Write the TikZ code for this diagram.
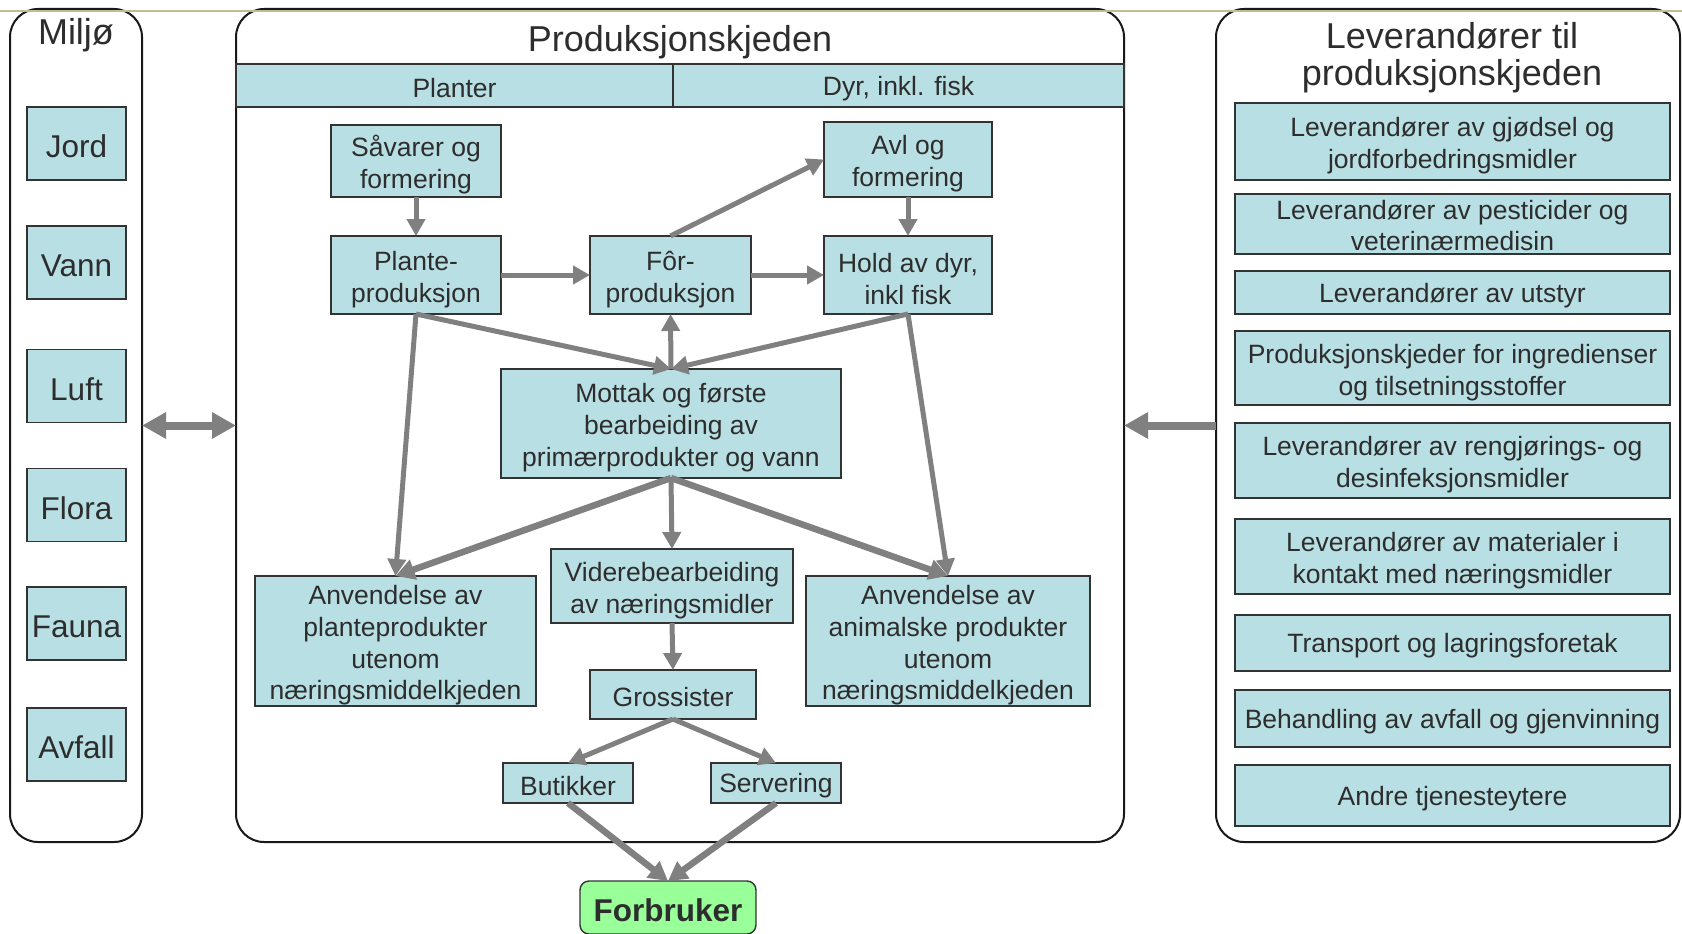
\documentclass[tikz,border=0pt]{standalone}
\usepackage{fontspec}
\setmainfont{Liberation Sans}
\usetikzlibrary{arrows.meta}
\definecolor{boxfill}{RGB}{184,223,227}
\definecolor{txtcol}{RGB}{45,45,45}
\definecolor{arrcol}{RGB}{128,128,128}
\definecolor{consfill}{RGB}{153,255,153}
\definecolor{toplinecol}{RGB}{192,188,150}
\newcommand{\tst}{\rule{0pt}{\dimexpr0.73em+8.5pt\relax}}
\newcommand{\tsth}{\rule{0pt}{\dimexpr0.73em+3pt\relax}}
\begin{document}
\begin{tikzpicture}[x=1pt,y=-1pt,
  container/.style={draw=black!90, line width=2pt, rounded corners=28pt, inner sep=0pt, outer sep=0pt},
  box/.style={draw=black!80, line width=1.4pt, fill=boxfill, text=txtcol, align=center, inner sep=0pt, outer sep=0pt, font=\fontsize{26.5}{31.8}\selectfont, execute at begin node={\rule{0pt}{\dimexpr0.73em+5.5pt\relax}}},
  envbox/.style={box, font=\fontsize{31.5}{34}\selectfont, minimum width=99pt, minimum height=73pt},
  supbox/.style={box, minimum width=435pt},
  title/.style={text=txtcol, align=center, inner sep=0pt, font=\fontsize{36}{36.5}\selectfont},
  flow/.style={draw=arrcol, line width=5pt, -{Triangle[length=17pt,width=18pt]}},
  flowthick/.style={draw=arrcol, line width=6.5pt, -{Triangle[length=19pt,width=20pt]}},
  bigflow/.style={draw=arrcol, line width=8pt, -{Triangle[length=24pt,width=25pt]}},
  bigboth/.style={draw=arrcol, line width=8pt, {Triangle[length=24pt,width=25pt]}-{Triangle[length=24pt,width=25pt]}}
]
\useasboundingbox (0,0) rectangle (1682,934);
% containers
\node[container, minimum width=132pt, minimum height=833pt] (miljo) at (76,425.5) {};
\node[container, minimum width=888pt, minimum height=833pt] (prod) at (680,425.5) {};
\node[container, minimum width=464pt, minimum height=833pt] (lev) at (1448,425.5) {};
% top line
\draw[toplinecol, line width=2pt] (0,11.5) -- (1682,11.5);
% titles
\node[title] (miljot) at (76,35) {Miljø};
\node[title] (prodt) at (680,42) {Produksjonskjeden};
\node[title] (levt) at (1452,57.5) {Leverandører til\\produksjonskjeden};
% header band
\node[box, minimum width=437pt, minimum height=43pt] (planter) at (454.5,85.5) {Planter};
\node[box, minimum width=451pt, minimum height=43pt] (dyr) at (898.5,85.5) {Dyr, inkl. fisk};
% environment
\node[envbox] (jord) at (76.5,143.5) {Jord};
\node[envbox] (vann) at (76.5,262.5) {Vann};
\node[envbox] (luft) at (76.5,386) {Luft};
\node[envbox] (flora) at (76.5,505) {Flora};
\node[envbox] (fauna) at (76.5,623.5) {Fauna};
\node[envbox] (avfall) at (76.5,744.5) {Avfall};
% suppliers
\node[supbox, minimum height=77pt] (s1) at (1452.5,141.5) {\tst Leverandører av gjødsel og\\jordforbedringsmidler};
\node[supbox, minimum height=60pt] (s2) at (1452.5,224) {\tsth Leverandører av pesticider og\\veterinærmedisin};
\node[supbox, minimum height=43pt] (s3) at (1452.5,292.5) {Leverandører av utstyr};
\node[supbox, minimum height=74pt] (s4) at (1452.5,368) {\tst Produksjonskjeder for ingredienser\\og tilsetningsstoffer};
\node[supbox, minimum height=75pt] (s5) at (1452.5,460.5) {\tst Leverandører av rengjørings- og\\desinfeksjonsmidler};
\node[supbox, minimum height=75pt] (s6) at (1452.5,556.5) {\tst Leverandører av materialer i\\kontakt med næringsmidler};
\node[supbox, minimum height=56pt] (s7) at (1452.5,643) {Transport og lagringsforetak};
\node[supbox, minimum height=57pt] (s8) at (1452.5,718.5) {Behandling av avfall og gjenvinning};
\node[supbox, minimum height=61pt] (s9) at (1452.5,795.5) {Andre tjenesteytere};
% production chain
\node[box, minimum width=170pt, minimum height=72pt] (sav) at (416,161) {\tst Såvarer og\\formering};
\node[box, minimum width=168pt, minimum height=75pt] (avl) at (908,159.5) {\tst Avl og\\formering};
\node[box, minimum width=170pt, minimum height=78pt] (plante) at (416,275) {\tst Plante-\\produksjon};
\node[box, minimum width=161pt, minimum height=78pt] (for) at (670.5,275) {\tst Fôr-\\produksjon};
\node[box, minimum width=168pt, minimum height=78pt] (hold) at (908,275) {\tst Hold av dyr,\\inkl fisk};
\node[box, minimum width=340pt, minimum height=109pt] (mottak) at (671,423.5) {\tst Mottak og første\\bearbeiding av\\primærprodukter og vann};
\node[box, minimum width=281pt, minimum height=130pt] (anvp) at (395.5,641) {\tst Anvendelse av\\planteprodukter\\utenom\\næringsmiddelkjeden};
\node[box, minimum width=242pt, minimum height=74pt] (videre) at (672,586) {\tst Viderebearbeiding\\av næringsmidler};
\node[box, minimum width=284pt, minimum height=130pt] (anva) at (948,641) {\tst Anvendelse av\\animalske produkter\\utenom\\næringsmiddelkjeden};
\node[box, minimum width=166pt, minimum height=49pt] (gross) at (673,694.5) {Grossister};
\node[box, minimum width=130pt, minimum height=40pt] (butikk) at (568,783) {Butikker};
\node[box, minimum width=130pt, minimum height=40pt] (serv) at (776,783) {Servering};
\node[box, fill=consfill, rounded corners=9pt, minimum width=176pt, minimum height=53pt, font=\fontsize{31.5}{34}\selectfont\bfseries] (forbr) at (668,907.5) {Forbruker};
% arrows
\draw[flow] (sav.south) -- (plante.north);
\draw[flow] (avl.south) -- (hold.north);
\draw[flow] (for.north) -- (avl.west);
\draw[flow] (plante.east) -- (for.west);
\draw[flow] (for.east) -- (hold.west);
\draw[flow] (plante.south) -- (mottak.north);
\draw[flow] (hold.south) -- (mottak.north);
\draw[flow] (mottak.north) -- (for.south);
\draw[flow] (plante.south) -- (anvp.north);
\draw[flow] (hold.south) -- (anva.north);
\draw[flowthick] (mottak.south) -- (anvp.north);
\draw[flowthick] (mottak.south) -- (anva.north);
\draw[flow] (mottak.south) -- (videre.north);
\draw[flow] (videre.south) -- (gross.north);
\draw[flow] (gross.south) -- (butikk.north);
\draw[flow] (gross.south) -- (serv.north);
\draw[flowthick] (butikk.south) -- (forbr.north);
\draw[flowthick] (serv.south) -- (forbr.north);
\draw[bigboth] (miljo.east) -- (prod.west);
\draw[bigflow] (lev.west) -- (prod.east);
\end{tikzpicture}
\end{document}
